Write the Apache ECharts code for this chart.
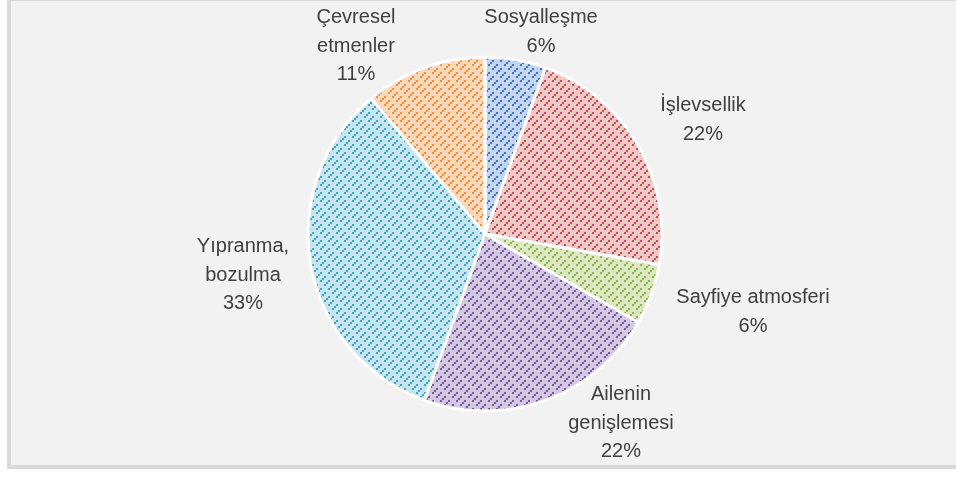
<!DOCTYPE html>
<html>
<head>
<meta charset="utf-8">
<script src="https://cdn.jsdelivr.net/npm/echarts@6/dist/echarts.min.js"></script>
<style>
  html, body { margin: 0; padding: 0; background: #ffffff; overflow: hidden; }
  #frame {
    position: absolute; left: 7px; top: -3px; width: 960px; height: 472px;
    box-sizing: border-box; border: 4px solid #d9d9d9; background: #f2f2f2;
  }
  #chart { position: absolute; left: 0; top: 0; width: 956px; height: 477px; }
</style>
</head>
<body>
<div id="frame"></div>
<div id="chart"></div>
<script>
// data
var categories = ['Sosyalleşme', 'İşlevsellik', 'Sayfiye atmosferi', 'Ailenin genişlemesi', 'Yıpranma, bozulma', 'Çevresel etmenler']
var labelNames = ['Sosyalleşme', 'İşlevsellik', 'Sayfiye atmosferi', 'Ailenin\ngenişlemesi', 'Yıpranma,\nbozulma', 'Çevresel\netmenler']
var values = [1, 4, 1, 4, 6, 2]

// slice colours: dash colour / background tint
var dashColors = ['#4472c4', '#c0504d', '#8fb348', '#7a5a9e', '#3ea3c0', '#f38d3a']
var tintColors = ['#c3d4ee', '#efc8c7', '#dce8c3', '#d2c8e2', '#c6e5ef', '#fcd8bb']

// where Excel put each label (text block centre)
var labelCenters = [[541, 32], [703, 120], [753, 312], [621, 423], [243, 275], [356, 46]]

// dashed upward diagonal pattern
function makePattern(fg, bg) {
  var b = 2, n = 8
  var cv = document.createElement('canvas')
  cv.width = cv.height = b * n
  var ctx = cv.getContext('2d')
  ctx.fillStyle = bg
  ctx.fillRect(0, 0, cv.width, cv.height)
  ctx.fillStyle = fg
  for (var by = 0; by < n; by++) {
    for (var bx = 0; bx < n; bx++) {
      if ((bx + by) % 4 !== 0) continue
      var k = (bx + by) / 4
      if ((by + 2 * k) % 4 === 3) continue
      ctx.fillRect(bx * b, by * b, b, b)
    }
  }
  return cv
}

var chart = echarts.init(document.getElementById('chart'))

var seriesData = categories.map(function(name, i) {
  return {
    name: name,
    value: values[i],
    itemStyle: {
      color: { image: makePattern(dashColors[i], tintColors[i]), repeat: 'repeat' }
    }
  }
})

chart.setOption({
  animation: false,
  series: [{
    type: 'pie',
    center: [485, 234],
    radius: 177,
    startAngle: 90,
    clockwise: true,
    itemStyle: {
      borderColor: '#ffffff',
      borderWidth: 3
    },
    label: {
      show: true,
      position: 'outside',
      fontFamily: 'Liberation Sans',
      fontSize: 20,
      lineHeight: 28.5,
      color: '#404040',
      formatter: function(p) {
        return labelNames[p.dataIndex] + '\n' + Math.round(p.percent) + '%'
      }
    },
    labelLine: { show: false },
    labelLayout: function(params) {
      var c = labelCenters[params.dataIndex]
      return { x: c[0], y: c[1], align: 'center', verticalAlign: 'middle' }
    },
    data: seriesData
  }]
})
</script>
</body>
</html>
